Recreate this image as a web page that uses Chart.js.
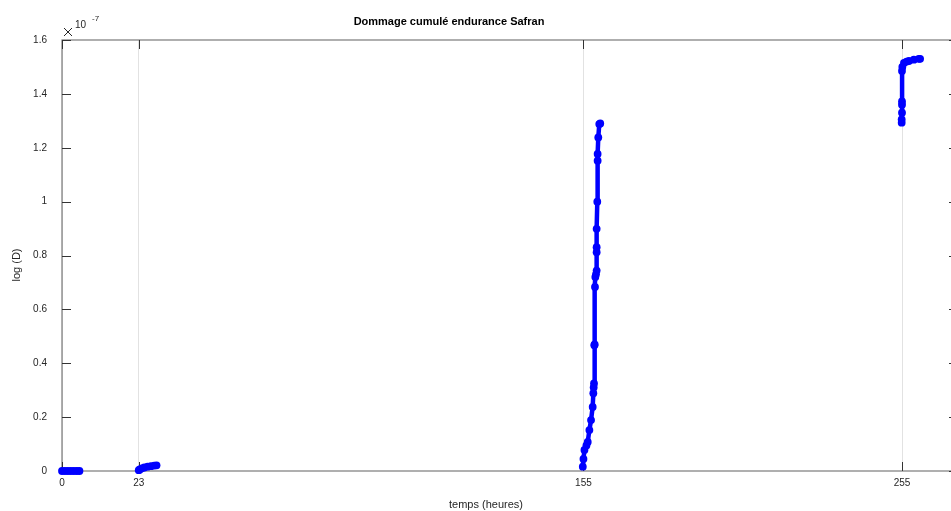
<!DOCTYPE html>
<html lang="fr">
<head>
  <meta charset="UTF-8" />
  <title>Dommage cumulé endurance Safran</title>
  <script src="https://cdn.jsdelivr.net/npm/chart.js"></script>
  <style>
    html, body { margin: 0; padding: 0; background: #fff; overflow: hidden; }
    #wrap { width: 962px; height: 511px; }
  </style>
</head>
<body>
  <div id="wrap"><canvas id="graphe" width="962" height="511"></canvas></div>

  <script>
  // position sur l'axe (échelle ~ heures) et dommage cumulé (x 1e-7), null = coupure entre essais
  const tempsX = [
    0, 0.9, 1.8, 2.7, 3.6, 4.5, 5.3,
    null,
    23.3, 23.6, 24.2, 25.0, 26.0, 27.0, 28.0, 28.7,
    null,
    158.1, 158.3, 158.6, 159.2, 159.6, 160.1, 160.6, 161.1, 161.3, 161.4, 161.5,
    161.6, 161.7, 161.8, 161.9, 162.1, 162.3, 162.3, 162.3, 162.3, 162.5,
    162.6, 162.6, 162.8, 163.1, 163.4,
    null,
    254.9, 254.9, 255.0, 255.0, 255.0, 255.0, 255.1, 255.6, 256.4, 257.1, 258.6, 260.1, 260.5
  ];
  const dommageY = [
    0, 0, 0, 0, 0, 0, 0,
    null,
    0.003, 0.006, 0.010, 0.013, 0.016, 0.018, 0.020, 0.021,
    null,
    0.016, 0.045, 0.078, 0.095, 0.108, 0.152, 0.189, 0.238, 0.289, 0.310, 0.325,
    0.467, 0.470, 0.683, 0.720, 0.730, 0.744, 0.812, 0.831, 0.899, 1.000,
    1.152, 1.177, 1.238, 1.288, 1.290,
    null,
    1.293, 1.305, 1.330, 1.360, 1.372, 1.485, 1.500, 1.515, 1.520, 1.522, 1.527, 1.530, 1.530
  ];

  const xTickPos = [0, 23.3, 158.3, 255];
  const xTickLabels = ['0', '23', '155', '255'];
  const yTickValues = [0, 0.2, 0.4, 0.6, 0.8, 1, 1.2, 1.4, 1.6];

  const points = tempsX.map((x, i) => (x === null ? { x: NaN, y: null } : { x: x, y: dommageY[i] }));

  const police = '"Liberation Sans", Arial, Helvetica, sans-serif';
  const gris = '#262626';

  // cadre, petites graduations vers l'intérieur et textes façon MATLAB
  const cadreMatlab = {
    id: 'cadreMatlab',
    beforeDatasetsDraw(chart) {
      const { ctx, chartArea: a, scales } = chart;
      ctx.save();
      ctx.strokeStyle = '#7a7a7a';
      ctx.lineWidth = 1.2;
      ctx.strokeRect(a.left, a.top, a.right - a.left, a.bottom - a.top);

      ctx.strokeStyle = '#333';
      ctx.lineWidth = 1;
      ctx.beginPath();
      scales.y.ticks.forEach(t => {
        const py = Math.round(scales.y.getPixelForValue(t.value)) + 0.5;
        ctx.moveTo(a.left, py); ctx.lineTo(a.left + 9, py);
        ctx.moveTo(a.right, py); ctx.lineTo(a.right - 9, py);
      });
      scales.x.ticks.forEach(t => {
        const px = Math.round(scales.x.getPixelForValue(t.value)) + 0.5;
        ctx.moveTo(px, a.bottom); ctx.lineTo(px, a.bottom - 9);
        ctx.moveTo(px, a.top); ctx.lineTo(px, a.top + 9);
      });
      ctx.stroke();
      ctx.restore();
    },
    afterDraw(chart) {
      const { ctx, chartArea: a } = chart;
      ctx.save();
      ctx.fillStyle = '#000';
      ctx.textAlign = 'center';
      ctx.textBaseline = 'middle';
      ctx.font = 'bold 11px ' + police;
      ctx.fillText('Dommage cumulé endurance Safran', 449, 22);

      ctx.fillStyle = gris;
      ctx.font = '11px ' + police;
      ctx.fillText('temps (heures)', 486, 505);

      ctx.save();
      ctx.translate(17, 265);
      ctx.rotate(-Math.PI / 2);
      ctx.fillText('log (D)', 0, 0);
      ctx.restore();

      // multiplicateur x 10^-7
      ctx.strokeStyle = gris;
      ctx.lineWidth = 1;
      ctx.beginPath();
      ctx.moveTo(a.left + 2, a.top - 12); ctx.lineTo(a.left + 10, a.top - 4);
      ctx.moveTo(a.left + 10, a.top - 12); ctx.lineTo(a.left + 2, a.top - 4);
      ctx.stroke();
      ctx.textAlign = 'left';
      ctx.font = '10px ' + police;
      ctx.fillText('10', a.left + 13, a.top - 15);
      ctx.font = '8px ' + police;
      ctx.fillText('-7', a.left + 30, a.top - 21);
      ctx.restore();
    }
  };

  new Chart(document.getElementById('graphe'), {
    type: 'line',
    data: {
      datasets: [{
        label: 'Dommage cumulé',
        data: points,
        borderColor: '#0000ff',
        backgroundColor: '#0000ff',
        borderWidth: 4.5,
        pointRadius: 3.9,
        pointBorderWidth: 0,
        pointBackgroundColor: '#0000ff',
        spanGaps: false,
        tension: 0,
        clip: false
      }]
    },
    options: {
      responsive: false,
      animation: false,
      events: [],
      layout: { padding: { top: 40, right: 3, left: 0, bottom: 0 } },
      plugins: {
        legend: { display: false },
        title: { display: false },
        tooltip: { enabled: false }
      },
      scales: {
        x: {
          type: 'linear',
          min: 0,
          max: 272,
          afterFit(s) { s.height = 40; },
          afterBuildTicks(s) { s.ticks = xTickPos.map(v => ({ value: v })); },
          grid: { display: true, color: '#e2e2e2', lineWidth: 1, drawTicks: false },
          border: { display: false },
          ticks: {
            padding: 6,
            color: gris,
            font: { family: police, size: 10 },
            maxRotation: 0,
            autoSkip: false,
            callback: (v, i) => xTickLabels[i]
          }
        },
        y: {
          type: 'linear',
          min: 0,
          max: 1.6,
          afterFit(s) { s.width = 62; },
          afterBuildTicks(s) { s.ticks = yTickValues.map(v => ({ value: v })); },
          grid: { display: false, drawTicks: false },
          border: { display: false },
          ticks: {
            padding: 15,
            color: gris,
            font: { family: police, size: 10 },
            callback: v => String(Math.round(v * 10) / 10)
          }
        }
      }
    },
    plugins: [cadreMatlab]
  });
  </script>
</body>
</html>
